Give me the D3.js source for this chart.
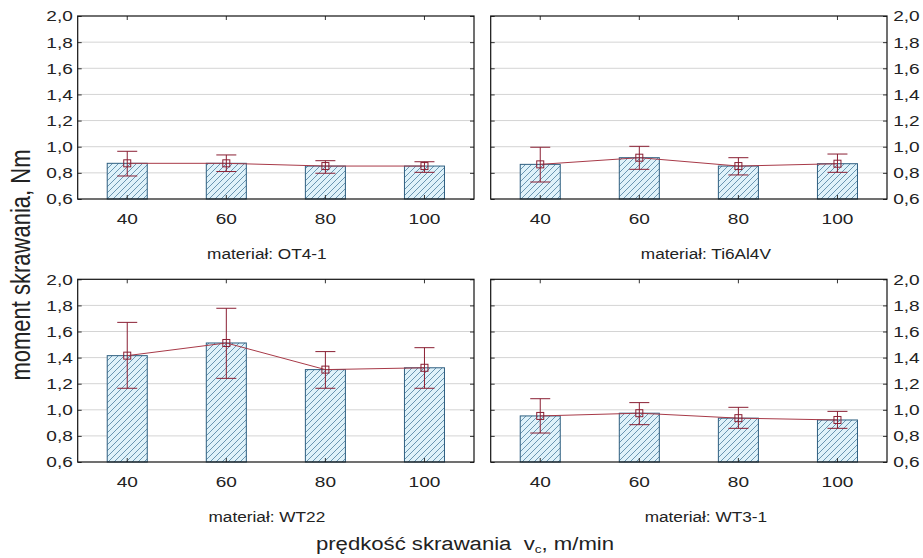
<!DOCTYPE html>
<html lang="pl">
<head>
<meta charset="utf-8">
<title>moment skrawania</title>
<style>
  html, body { margin: 0; background: #fff; }
  svg { display: block; font-family: "Liberation Sans", Arial, sans-serif; }
</style>
</head>
<body>
<script src="https://cdn.jsdelivr.net/npm/d3@7"></script>
<script>
const speeds = ['40', '60', '80', '100']
const materials = ['OT4-1', 'Ti6Al4V', 'WT22', 'WT3-1']
const yTicks = [0.6, 0.8, 1.0, 1.2, 1.4, 1.6, 1.8, 2.0]

// mean values and error bar ends
const meanOT4 = [0.873, 0.873, 0.852, 0.852]
const lowOT4 = [0.776, 0.81, 0.797, 0.804]
const highOT4 = [0.965, 0.937, 0.893, 0.885]

const meanTi = [0.865, 0.916, 0.852, 0.87]
const lowTi = [0.73, 0.827, 0.784, 0.804]
const highTi = [0.996, 1.003, 0.916, 0.944]

const meanWT22 = [1.415, 1.512, 1.308, 1.322]
const lowWT22 = [1.165, 1.241, 1.165, 1.165]
const highWT22 = [1.67, 1.778, 1.446, 1.476]

const meanWT3 = [0.953, 0.974, 0.936, 0.922]
const lowWT3 = [0.822, 0.886, 0.858, 0.858]
const highWT3 = [1.085, 1.055, 1.019, 0.988]

const W = 923, H = 558
const sx = 1.23 // the original figure is stretched sideways
const barFill = '#dff2fa'
const hatchColor = '#4d7f9e'
const barStroke = '#2f5f80'
const errColor = '#8a1f33'
const lineColor = '#a83a48'
const gridColor = '#d4d4d4'
const textColor = '#222'

const cols = [[77.7, 474], [490.7, 887]]
const rows = [[16, 199], [279.3, 462]]
const labelShift = [-9, 17]

const panels = [
  { name: materials[0], mean: meanOT4, low: lowOT4, high: highOT4, col: 0, row: 0 },
  { name: materials[1], mean: meanTi, low: lowTi, high: highTi, col: 1, row: 0 },
  { name: materials[2], mean: meanWT22, low: lowWT22, high: highWT22, col: 0, row: 1 },
  { name: materials[3], mean: meanWT3, low: lowWT3, high: highWT3, col: 1, row: 1 }
]

const fmt = d => d3.format('.1f')(d).replace('.', ',')

const svg = d3.select('body').append('svg')
  .attr('width', W)
  .attr('height', H)
  .attr('viewBox', [0, 0, W, H])

const pat = svg.append('defs').append('pattern')
  .attr('id', 'hatch')
  .attr('patternUnits', 'userSpaceOnUse')
  .attr('width', 6)
  .attr('height', 6)
pat.append('rect').attr('width', 6).attr('height', 6).attr('fill', barFill)
pat.append('path')
  .attr('d', 'M-1,1 L1,-1 M0,6 L6,0 M5,7 L7,5')
  .attr('stroke', hatchColor)
  .attr('stroke-width', 0.8)

function stretchText(sel) {
  sel.attr('transform', `scale(${sx},1)`)
}

panels.forEach(p => {
  const [x0, x1] = cols[p.col]
  const [y0, y1] = rows[p.row]

  const x = d3.scaleBand()
    .domain(speeds)
    .range([x0, x1])
    .paddingInner(0.596)
    .paddingOuter(0.298)

  const y = d3.scaleLinear()
    .domain([0.6, 2.0])
    .range([y1, y0])

  const g = svg.append('g')

  g.append('g').selectAll('line')
    .data(yTicks.filter(d => d > 0.6 && d < 2.0))
    .join('line')
    .attr('x1', x0).attr('x2', x1)
    .attr('y1', d => y(d)).attr('y2', d => y(d))
    .attr('stroke', gridColor)

  const rowsData = speeds.map((s, i) => ({ s, m: p.mean[i], lo: p.low[i], hi: p.high[i] }))

  g.append('g').selectAll('rect')
    .data(rowsData)
    .join('rect')
    .attr('x', d => x(d.s))
    .attr('width', x.bandwidth())
    .attr('y', d => y(d.m))
    .attr('height', d => y(0.6) - y(d.m))
    .attr('fill', 'url(#hatch)')
    .attr('stroke', barStroke)
    .attr('stroke-width', 1)

  const cx = d => x(d.s) + x.bandwidth() / 2

  g.append('path')
    .datum(rowsData)
    .attr('fill', 'none')
    .attr('stroke', lineColor)
    .attr('stroke-width', 1)
    .attr('d', d3.line().x(cx).y(d => y(d.m)))

  const err = g.append('g').selectAll('g')
    .data(rowsData)
    .join('g')
    .attr('stroke', errColor)
    .attr('stroke-width', 1)
  err.append('line')
    .attr('x1', cx).attr('x2', cx)
    .attr('y1', d => y(d.lo)).attr('y2', d => y(d.hi))
  err.append('line')
    .attr('x1', d => cx(d) - 10).attr('x2', d => cx(d) + 10)
    .attr('y1', d => y(d.hi)).attr('y2', d => y(d.hi))
  err.append('line')
    .attr('x1', d => cx(d) - 10).attr('x2', d => cx(d) + 10)
    .attr('y1', d => y(d.lo)).attr('y2', d => y(d.lo))
  err.append('rect')
    .attr('x', d => cx(d) - 3.5).attr('y', d => y(d.m) - 3.5)
    .attr('width', 7).attr('height', 7)
    .attr('fill', 'none')

  // inward ticks on all four sides
  const bottom = g.append('g')
    .attr('transform', `translate(0,${y1})`)
    .call(d3.axisBottom(x).tickSize(-4).tickPadding(14))
  const top = g.append('g')
    .attr('transform', `translate(0,${y0})`)
    .call(d3.axisTop(x).tickSize(-4).tickFormat(''))
  const left = g.append('g')
    .attr('transform', `translate(${x0},0)`)
    .call(d3.axisLeft(y).tickValues(yTicks).tickSize(-4).tickPadding(4)
      .tickFormat(p.col === 0 ? fmt : ''))
  const right = g.append('g')
    .attr('transform', `translate(${x1},0)`)
    .call(d3.axisRight(y).tickValues(yTicks).tickSize(-4).tickPadding(5)
      .tickFormat(p.col === 1 ? fmt : ''))

  ;[bottom, top, left, right].forEach(a => {
    a.select('.domain').remove()
    a.selectAll('line').attr('stroke', '#333')
    a.selectAll('text')
      .attr('font-size', 15.5)
      .attr('font-family', '"Liberation Sans", Arial, sans-serif')
      .attr('fill', textColor)
      .call(stretchText)
  })

  g.append('rect')
    .attr('x', x0).attr('y', y0)
    .attr('width', x1 - x0).attr('height', y1 - y0)
    .attr('fill', 'none')
    .attr('stroke', '#111')
    .attr('stroke-width', 1.2)

  g.append('text')
    .attr('transform', `translate(${(x0 + x1) / 2 + labelShift[p.col]},${y1 + 60}) scale(${sx},1)`)
    .attr('text-anchor', 'middle')
    .attr('font-size', 14)
    .attr('fill', textColor)
    .text('materiał: ' + p.name)
})

svg.append('text')
  .attr('transform', `translate(30,265) rotate(-90) scale(1,${sx})`)
  .attr('text-anchor', 'middle')
  .attr('font-size', 22)
  .attr('fill', textColor)
  .text('moment skrawania, Nm')

const xt = svg.append('text')
  .attr('transform', `translate(465,550) scale(${sx},1)`)
  .attr('text-anchor', 'middle')
  .attr('font-size', 18)
  .attr('fill', textColor)
  .style('white-space', 'pre')
xt.append('tspan').text('prędkość skrawania  v')
xt.append('tspan').attr('font-size', 11).attr('dy', 3).text('c')
xt.append('tspan').attr('dy', -3).text(', m/min')
</script>
</body>
</html>
